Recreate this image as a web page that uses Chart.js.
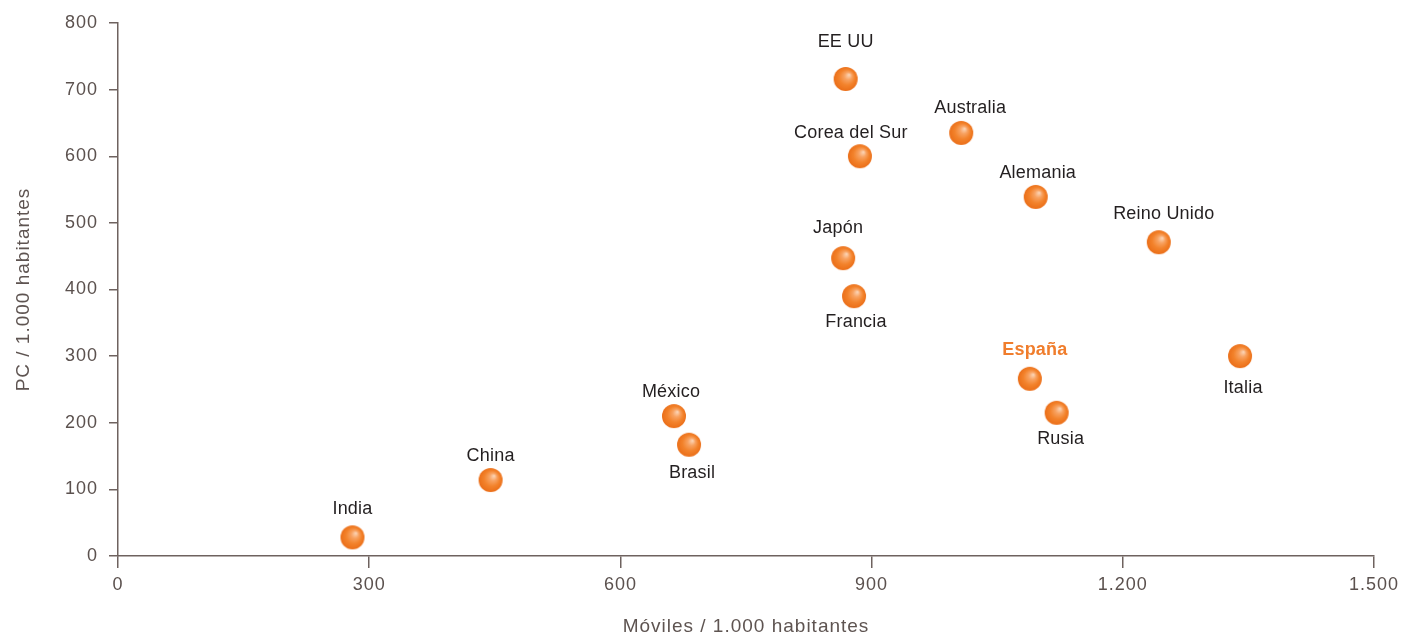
<!DOCTYPE html>
<html lang="es">
<head>
    <meta charset="UTF-8">
    <title>Móviles y PC por cada 1.000 habitantes</title>
    <script src="https://cdn.jsdelivr.net/npm/chart.js"></script>
    <style>
        html, body { margin: 0; padding: 0; background: #ffffff; overflow: hidden; }
        #wrap { width: 1398px; height: 638px; }
    </style>
</head>
<body>
<div id="wrap"><canvas id="movilesChart"></canvas></div>

<script>
    // Datos: móviles y PC por cada 1.000 habitantes
    const paises  = ["India", "China", "México", "Brasil", "Japón", "Francia", "EE UU",
                     "Corea del Sur", "Australia", "Alemania", "Reino Unido", "España", "Rusia", "Italia"];
    const moviles = [280, 445, 664, 682, 866, 879, 869, 886, 1007, 1096, 1243, 1089, 1121, 1340];
    const pcs     = [28, 114, 210, 167, 447, 390, 716, 600, 635, 539, 471, 266, 215, 300];
    const destacado = "España";

    const ticksX = [0, 300, 600, 900, 1200, 1500];
    const ticksY = [0, 100, 200, 300, 400, 500, 600, 700, 800];

    // Desplazamiento de cada etiqueta respecto a su punto [dx, dy] en px
    const desplEtiqueta = [
        [0, -28], [0, -24], [-3, -24], [3, 28], [-5, -30], [2, 26], [0, -37],
        [-9, -23], [9, -25], [2, -24], [5, -28], [5, -29], [4, 26], [3, 32]
    ];

    const fmt = v => v.toLocaleString("es-ES", { useGrouping: "always" }).replace(",", ".");

    // Bola naranja con brillo suave arriba a la derecha
    function crearBola(r) {
        const c = document.createElement("canvas");
        c.width = c.height = r * 2 + 2;
        const g = c.getContext("2d");
        const cx = r + 1, cy = r + 1;
        const grad = g.createRadialGradient(cx + r * 0.3, cy - r * 0.35, 0, cx, cy, r * 1.05);
        grad.addColorStop(0, "#fcd8bc");
        grad.addColorStop(0.3, "#f8a261");
        grad.addColorStop(0.62, "#f3832c");
        grad.addColorStop(1, "#ea6c16");
        g.fillStyle = grad;
        g.beginPath();
        g.arc(cx, cy, r, 0, Math.PI * 2);
        g.fill();
        return c;
    }
    const bola = crearBola(12);

    const ejeColor = "#6e625f";
    const textoEje = "#5b514e";
    const fuente = "'Liberation Sans', Arial, sans-serif";

    // Espaciado de letras del texto de ejes
    const espaciado = {
        id: "espaciado",
        beforeDraw(chart) { chart.ctx.letterSpacing = "1px"; }
    };

    // Nombres de los países junto a cada punto
    const etiquetas = {
        id: "etiquetas",
        afterDatasetsDraw(chart) {
            const ctx = chart.ctx;
            const meta = chart.getDatasetMeta(0);
            ctx.save();
            ctx.letterSpacing = "0.2px";
            ctx.textAlign = "center";
            ctx.textBaseline = "middle";
            meta.data.forEach((pt, i) => {
                const nombre = paises[i];
                const [dx, dy] = desplEtiqueta[i];
                if (nombre === destacado) {
                    ctx.font = "bold 18px " + fuente;
                    ctx.fillStyle = "#f07d2c";
                } else {
                    ctx.font = "18px " + fuente;
                    ctx.fillStyle = "#231f20";
                }
                ctx.fillText(nombre, pt.x + dx, pt.y + dy);
            });
            ctx.restore();
        }
    };

    new Chart(document.getElementById("movilesChart"), {
        type: "scatter",
        data: {
            datasets: [{
                label: "PC / móviles",
                data: moviles.map((m, i) => ({ x: m, y: pcs[i] })),
                pointStyle: bola,
                pointRadius: 12,
                pointHoverRadius: 12
            }]
        },
        options: {
            responsive: true,
            maintainAspectRatio: false,
            animation: false,
            layout: { padding: { top: 23, right: 24, left: 0, bottom: 0 } },
            plugins: {
                legend: { display: false },
                tooltip: { enabled: false }
            },
            scales: {
                x: {
                    type: "linear",
                    min: 0,
                    max: 1500,
                    afterBuildTicks: s => { s.ticks = ticksX.map(v => ({ value: v })); },
                    afterFit: s => { s.height = 82; s.paddingLeft = 0; s.paddingRight = 0; },
                    grid: { drawOnChartArea: false, drawTicks: true, tickLength: 12, color: ejeColor, lineWidth: 1.5 },
                    border: { color: ejeColor, width: 1.5 },
                    ticks: {
                        padding: 6,
                        color: textoEje,
                        font: { family: fuente, size: 18 },
                        maxRotation: 0,
                        callback: v => fmt(v)
                    },
                    title: {
                        display: true,
                        text: "Móviles / 1.000 habitantes",
                        color: "#5e5451",
                        font: { family: fuente, size: 19 },
                        padding: { top: 0, bottom: 0 }
                    }
                },
                y: {
                    type: "linear",
                    min: 0,
                    max: 800,
                    afterBuildTicks: s => { s.ticks = ticksY.map(v => ({ value: v })); },
                    afterFit: s => { s.width = 118; s.paddingTop = 0; s.paddingBottom = 0; },
                    grid: { drawOnChartArea: false, drawTicks: true, tickLength: 9, color: ejeColor, lineWidth: 1.5 },
                    border: { color: ejeColor, width: 1.5 },
                    ticks: {
                        padding: 11,
                        color: textoEje,
                        font: { family: fuente, size: 18 },
                        callback: v => fmt(v)
                    },
                    title: {
                        display: true,
                        text: "PC / 1.000 habitantes",
                        color: "#5e5451",
                        font: { family: fuente, size: 19 },
                        padding: { top: 12, bottom: 0 }
                    }
                }
            }
        },
        plugins: [espaciado, etiquetas]
    });
</script>
</body>
</html>
